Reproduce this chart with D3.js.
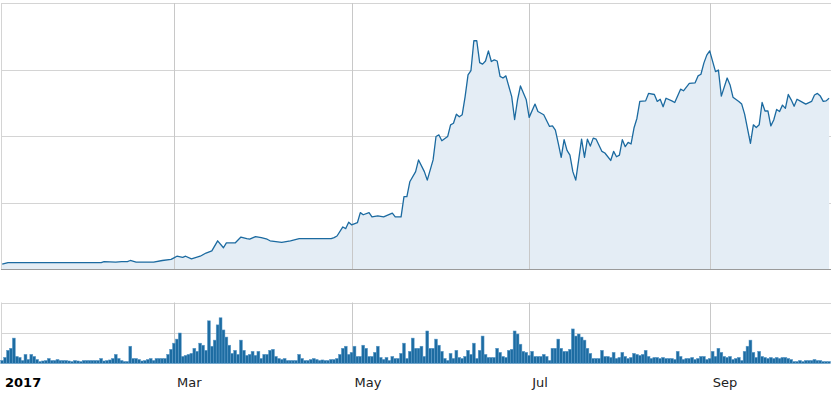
<!DOCTYPE html>
<html>
<head>
<meta charset="utf-8">
<script src="https://cdn.jsdelivr.net/npm/d3@7"></script>
<style>
  body { margin: 0; background: #fff; }
  svg { display: block; font-family: "DejaVu Sans", Verdana, sans-serif; }
</style>
</head>
<body>
<div id="chart"></div>
<script>
// price points, as days since 1 Jan 2017 and price value
const priceDays = [0, 2, 34, 35, 39, 41, 43, 44, 46, 52, 55, 58, 59, 60, 62, 63, 65, 68, 70, 72, 74, 76, 77, 80, 82, 84, 85, 87, 89, 91, 92, 96, 99, 102, 113, 114, 115, 117, 118, 119, 120, 122, 123, 124, 126, 127, 129, 131, 134, 135, 137, 138, 139, 140, 142, 143, 145, 146, 148, 149, 150, 151, 153, 154, 155, 156, 157, 158, 159, 160, 161, 162, 163, 164, 165, 166, 167, 168, 169, 170, 171, 172, 173, 175, 176, 177, 178, 180, 181, 183, 184, 186, 188, 189, 190, 191, 192, 193, 194, 195, 196, 197, 198, 199, 200, 201, 202, 203, 204, 206, 207, 209, 210, 211, 212, 213, 214, 215, 216, 217, 218, 219, 221, 222, 224, 225, 226, 227, 228, 230, 231, 233, 234, 236, 238, 239, 240, 241, 242, 243, 245, 246, 247, 249, 250, 251, 253, 254, 255, 257, 258, 259, 260, 261, 262, 263, 264, 265, 266, 267, 268, 269, 270, 271, 272, 273, 274, 276, 278, 279, 280, 281, 282, 283, 284];
const priceValues = [9, 12, 12, 14, 13, 14, 14, 16, 13, 13, 16, 18, 21, 24, 22, 24, 19, 24, 30, 34, 53, 40, 49, 49, 60, 57, 56, 61, 59, 56, 53, 50, 53, 57, 57, 59, 62, 79, 76, 88, 83, 87, 106, 102, 106, 98, 100, 98, 105, 98, 98, 136, 136, 164, 183, 205, 183, 167, 205, 249, 252, 241, 249, 271, 274, 291, 286, 290, 324, 365, 373, 429, 429, 388, 385, 391, 410, 390, 393, 391, 362, 359, 363, 324, 281, 318, 344, 318, 285, 310, 296, 290, 268, 269, 261, 236, 210, 243, 223, 214, 183, 167, 205, 244, 210, 244, 231, 246, 244, 221, 218, 204, 221, 211, 214, 243, 230, 238, 235, 265, 283, 315, 316, 330, 328, 315, 319, 305, 321, 316, 313, 338, 335, 349, 350, 363, 366, 387, 402, 410, 371, 374, 325, 359, 346, 323, 315, 310, 291, 236, 271, 266, 271, 313, 297, 297, 269, 280, 300, 296, 308, 302, 328, 318, 306, 319, 316, 310, 315, 327, 330, 325, 315, 316, 321];

// daily volume, one value per day from 1 Jan 2017
const volumeValues = [
  3, 6, 13, 15, 25, 7, 6, 3, 9, 4,
  9, 7, 4, 2, 2.5, 3, 5, 3, 3, 4,
  3, 3, 3, 2.5, 2, 3, 2.5, 2, 3, 3,
  3, 3, 3, 3, 5, 2.5, 3, 3.5, 5, 9,
  5, 3, 2, 2, 17, 5, 5, 4, 2.5, 3,
  4, 5, 3, 5, 5, 5, 5, 9, 14, 20,
  24, 30, 7, 8, 9, 10, 15, 12, 20, 18,
  13, 42, 17, 23, 38, 45, 33, 26, 18, 10,
  13, 9, 23, 13, 8, 9, 12, 8, 12, 5,
  9, 9, 13, 14, 7, 5, 4, 5, 3, 3,
  3, 3, 9, 5, 3, 3, 4, 5, 4, 3,
  3.5, 3, 3, 4, 4, 5, 9, 15, 17, 9,
  11, 17, 7, 7, 18, 15, 7, 7, 11, 17,
  6, 4, 6, 3, 7, 5, 5, 10, 20, 5,
  12, 25, 15, 15, 17, 7, 32, 15, 15, 24,
  18, 12, 5, 3, 10, 5, 13, 6, 5, 7,
  13, 9, 20, 5, 13, 27, 9, 6, 6, 6,
  15, 11, 7, 6, 13, 14, 32, 29, 19, 12,
  11, 8, 12, 7, 7, 7, 9, 7, 3, 15,
  15, 24, 15, 12, 12, 14, 34, 27, 29, 26,
  23, 15, 10, 5, 5, 5, 13, 7, 7, 6,
  11, 5, 6, 11, 7, 5, 6, 10, 9, 8,
  9, 13, 7, 5, 6, 6, 5, 6, 5, 5,
  5, 4, 12, 7, 4, 5, 5, 6, 4, 5,
  7, 7, 4, 5, 12, 7, 15, 11, 7, 6,
  7, 4, 5, 6, 3, 12, 17, 23, 11, 6,
  12, 7, 6, 5, 6, 5, 6, 5, 6, 6,
  5, 4, 2, 2, 3, 2, 3, 3, 3, 4,
  3, 3, 2, 2, 2
];

const tickDates = ['2017-01-01', '2017-03-01', '2017-05-01', '2017-07-01', '2017-09-01'];
const tickLabels = ['2017', 'Mar', 'May', 'Jul', 'Sep'];
const priceGrid = [125, 250, 375];
const volumeGrid = [30];

var width = 838, height = 396;
var plotLeft = 1, plotRight = 831;
var priceTop = 3, priceBottom = 269;
var volTop = 302.5, volBottom = 363.5;

var start = new Date(2017, 0, 1);
var dayDate = d => d3.timeDay.offset(start, d);
var parseDate = d3.timeParse('%Y-%m-%d');

var x = d3.scaleTime()
    .domain([start, new Date(2017, 9, 12, 16)])
    .range([2.2, plotRight]);

var y = d3.scaleLinear()
    .domain([0, 500])
    .range([priceBottom, priceTop]);

var yVol = d3.scaleLinear()
    .domain([0, 60])
    .range([volBottom, volTop]);

var priceData = priceDays.map((d, i) => ({date: dayDate(d), value: priceValues[i]}));
var volumeData = volumeValues.map((v, i) => ({date: dayDate(i), value: v}));

const svg = d3.select('#chart').append('svg')
    .attr('width', width)
    .attr('height', height);

// horizontal grid
svg.append('g')
    .selectAll('line')
    .data(priceGrid.concat([500]))
  .enter().append('line')
    .attr('x1', plotLeft)
    .attr('x2', plotRight)
    .attr('y1', d => Math.round(y(d)) + 0.5)
    .attr('y2', d => Math.round(y(d)) + 0.5)
    .attr('stroke', '#d4d4d4');

svg.append('g')
    .selectAll('line')
    .data(volumeGrid.concat([60]))
  .enter().append('line')
    .attr('x1', plotLeft)
    .attr('x2', plotRight)
    .attr('y1', d => Math.round(yVol(d)) + 0.5)
    .attr('y2', d => Math.round(yVol(d)) + 0.5)
    .attr('stroke', '#d4d4d4');

// left border of both panels
[[priceTop, priceBottom], [volTop, volBottom]].forEach(r => {
  svg.append('line')
      .attr('x1', plotLeft + 0.5).attr('x2', plotLeft + 0.5)
      .attr('y1', r[0]).attr('y2', r[1])
      .attr('stroke', '#d4d4d4');
});

// price area and line
var area = d3.area()
    .x(d => x(d.date))
    .y0(y(0))
    .y1(d => y(d.value));

var line = d3.line()
    .x(d => x(d.date))
    .y(d => y(d.value));

svg.append('path')
    .datum(priceData)
    .attr('d', area)
    .attr('fill', '#e4edf5');

// vertical month grid, drawn over the area
var months = tickDates.slice(1).map(parseDate);
[[priceTop, priceBottom], [volTop, volBottom]].forEach(r => {
  svg.append('g')
      .selectAll('line')
      .data(months)
    .enter().append('line')
      .attr('x1', d => Math.round(x(d)) + 0.5)
      .attr('x2', d => Math.round(x(d)) + 0.5)
      .attr('y1', r[0])
      .attr('y2', r[1])
      .attr('stroke', '#c8c8c8');
});

svg.append('path')
    .datum(priceData)
    .attr('d', line)
    .attr('fill', 'none')
    .attr('stroke', '#1b6aa0')
    .attr('stroke-width', 1.3)
    .attr('stroke-linejoin', 'round');

// bottom axis line of price panel
svg.append('line')
    .attr('x1', plotLeft)
    .attr('x2', plotRight)
    .attr('y1', priceBottom + 0.5)
    .attr('y2', priceBottom + 0.5)
    .attr('stroke', '#9a9a9a');

// volume bars
var barW = x(dayDate(1)) - x(dayDate(0));
svg.append('g')
    .selectAll('rect')
    .data(volumeData)
  .enter().append('rect')
    .attr('x', d => x(d.date) - barW / 2)
    .attr('y', d => yVol(d.value))
    .attr('width', barW)
    .attr('height', d => volBottom - yVol(d.value))
    .attr('fill', '#1d6ca2')
    .attr('stroke', '#5f9cca')
    .attr('stroke-width', 0.5);

// x labels
svg.append('g')
    .selectAll('text')
    .data(tickDates)
  .enter().append('text')
    .attr('x', (d, i) => i === 0 ? 5 : x(parseDate(d)) + 3)
    .attr('y', 387)
    .attr('font-size', 13)
    .attr('font-weight', (d, i) => i === 0 ? 'bold' : 'normal')
    .attr('fill', (d, i) => i === 0 ? '#000' : '#222')
    .text((d, i) => tickLabels[i]);
</script>
</body>
</html>
